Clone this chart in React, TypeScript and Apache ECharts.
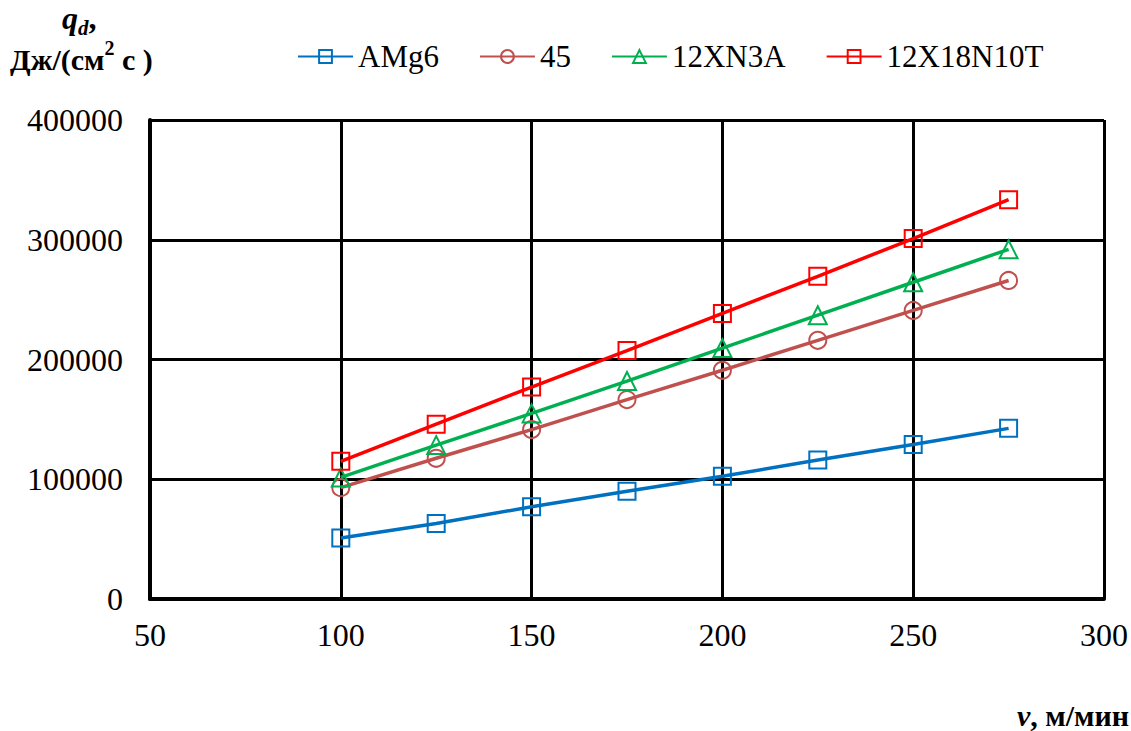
import React, { useEffect, useRef } from "react";
import * as echarts from "echarts";

const speeds = [100, 125, 150, 175, 200, 225, 250, 275];
const seriesNames = ["AMg6", "45", "12XN3A", "12X18N10T"];
const amg6 = [51000, 63000, 77000, 90000, 102500, 116000, 129000, 142500];
const steel45 = [93000, 117500, 141500, 166500, 191000, 216000, 241000, 266000];
const s12xn3a = [101500, 128500, 155000, 182000, 209500, 237000, 264500, 292000];
const s12x18n10t = [115000, 146000, 177000, 207500, 238500, 269500, 301000, 333500];
const colors = ["#0070C0", "#C0504D", "#00B050", "#FF0000"];
const symbols = ["rect", "circle", "triangle", "rect"];

const FONT = "Liberation Serif, Tinos, Times New Roman, Noto Serif, DejaVu Serif, serif";

export default function App() {
  const ref = useRef<HTMLDivElement>(null);
  useEffect(() => {
    document.body.style.margin = "0";
    const chart = echarts.init(ref.current!, null, { renderer: "svg" });
    const allData = [amg6, steel45, s12xn3a, s12x18n10t];
    chart.setOption({
      animation: false,
      grid: { left: 150, right: 26, top: 120, bottom: 132, containLabel: false },
      legend: {
        left: 297,
        top: 41,
        padding: 0,
        itemWidth: 55,
        itemHeight: 16,
        itemGap: 40,
        textStyle: { fontFamily: FONT, fontSize: 31, color: "#000" },
        data: seriesNames,
      },
      xAxis: {
        type: "value",
        min: 50,
        max: 300,
        interval: 50,
        axisLine: { show: true, onZero: false, lineStyle: { color: "#000", width: 4 } },
        axisTick: { show: false },
        axisLabel: { fontFamily: FONT, fontSize: 32, color: "#000", margin: 20, formatter: (v: number) => String(v) },
        splitLine: { show: true, lineStyle: { color: "#000", width: 3 } },
      },
      yAxis: {
        type: "value",
        min: 0,
        max: 400000,
        interval: 100000,
        axisLine: { show: true, lineStyle: { color: "#000", width: 4 } },
        axisTick: { show: false },
        axisLabel: { fontFamily: FONT, fontSize: 32, color: "#000", margin: 27, formatter: (v: number) => String(v) },
        splitLine: { show: true, lineStyle: { color: "#000", width: 3 } },
      },
      series: seriesNames.map((name, i) => ({
        name,
        type: "line",
        data: speeds.map((x, j) => [x, allData[i][j]]),
        symbol: symbols[i],
        symbolSize: i === 2 ? 18 : 17,
        lineStyle: { color: colors[i], width: 3.5 },
        itemStyle: { color: "rgba(255,255,255,0)", borderColor: colors[i], borderWidth: 2 },
        z: 3 + i,
      })),
      graphic: [
        {
          type: "text",
          left: 62,
          top: 2,
          style: {
            text: "{q|q}{d|d}{c|,}",
            fill: "#000",
            rich: {
              q: { fontFamily: FONT, fontSize: 32, fontWeight: "bold", fontStyle: "italic", lineHeight: 36, verticalAlign: "top" },
              d: { fontFamily: FONT, fontSize: 21, fontWeight: "bold", fontStyle: "italic", lineHeight: 36, verticalAlign: "bottom" },
              c: { fontFamily: FONT, fontSize: 32, fontWeight: "bold", lineHeight: 36, verticalAlign: "top" },
            },
          },
        },
        {
          type: "text",
          left: 10,
          top: 38,
          style: {
            text: "{a|Дж/(см}{s|2}{a| с )}",
            fill: "#000",
            rich: {
              a: { fontFamily: FONT, fontSize: 30, fontWeight: "bold", lineHeight: 36, verticalAlign: "bottom" },
              s: { fontFamily: FONT, fontSize: 20, fontWeight: "bold", lineHeight: 36, verticalAlign: "top" },
            },
          },
        },
        {
          type: "text",
          right: 2,
          top: 700,
          style: {
            text: "{v|v}{t|, м/мин}",
            fill: "#000",
            rich: {
              v: { fontFamily: FONT, fontSize: 30, fontWeight: "bold", fontStyle: "italic" },
              t: { fontFamily: FONT, fontSize: 30, fontWeight: "bold" },
            },
          },
        },
      ],
    });
    return () => chart.dispose();
  }, []);
  return <div ref={ref} style={{ width: 1131, height: 731 }} />;
}
